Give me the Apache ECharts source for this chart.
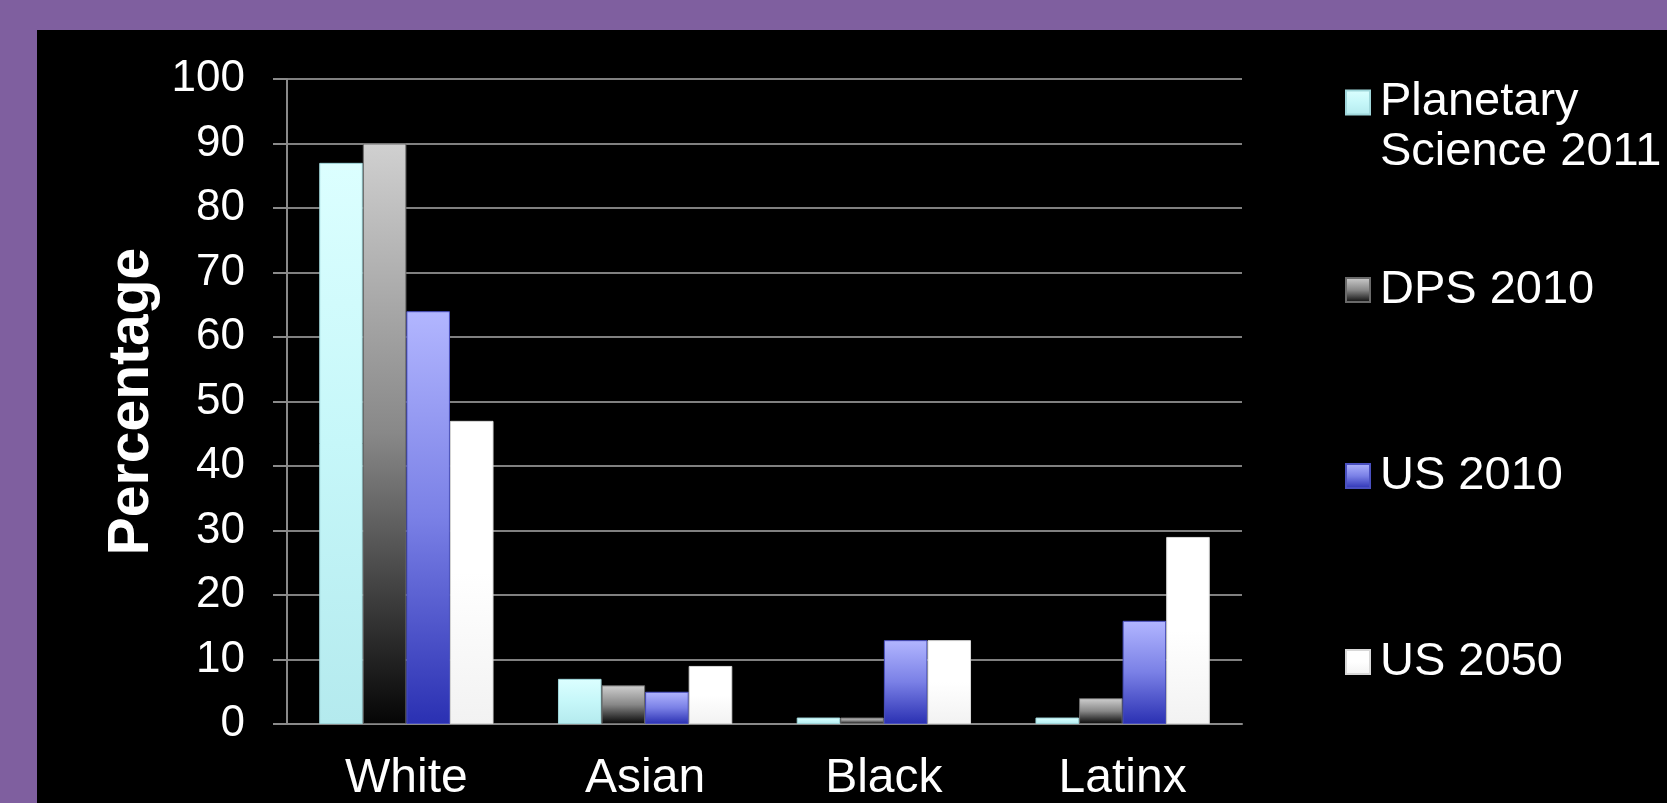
<!DOCTYPE html>
<html>
<head>
<meta charset="utf-8">
<script src="https://cdn.jsdelivr.net/npm/echarts@6/dist/echarts.min.js"></script>
<style>
  html, body { margin: 0; padding: 0; width: 1667px; height: 803px; background: #7f5f9f; overflow: hidden; }
  #panel { position: absolute; left: 37px; top: 30px; width: 1630px; height: 773px; background: #000; }
  #chart { position: absolute; left: 0; top: 0; width: 1667px; height: 803px; }
</style>
</head>
<body>
<div id="panel"></div>
<div id="chart"></div>
<script>
const categories = ['White', 'Asian', 'Black', 'Latinx'];
const seriesNames = ['Planetary Science 2011', 'DPS 2010', 'US 2010', 'US 2050'];
const legendLabels = ['\nPlanetary\nScience 2011', 'DPS 2010', 'US 2010', 'US 2050'];
const planetary2011 = [87, 7, 1, 1];
const dps2010 = [90, 6, 1, 4];
const us2010 = [64, 5, 13, 16];
const us2050 = [47, 9, 13, 29];
const yTicks = [0, 10, 20, 30, 40, 50, 60, 70, 80, 90, 100];

const grad = (stops) => ({ type: 'linear', x: 0, y: 0, x2: 0, y2: 1,
  colorStops: stops.map((c, i) => ({ offset: i / (stops.length - 1), color: c })) });

const colors = [
  grad(['#dcffff', '#c6f7f9', '#b4eaee']),
  grad(['#d0d0d0', '#888888', '#050505']),
  grad(['#b2b6ff', '#7a80e6', '#2a30b2']),
  grad(['#ffffff', '#ffffff', '#f2f2f2'])
];
const borders = ['#9fd6da', '#6a6a6a', '#4a50c0', '#d8d8d8'];
const values = [planetary2011, dps2010, us2010, us2050];

const legendCenters = [102.5, 290, 476, 662];
const FONT = '"Liberation Sans", Arial, sans-serif';

const chart = echarts.init(document.getElementById('chart'));
chart.setOption({
  animation: false,
  backgroundColor: 'transparent',
  grid: { left: 287, right: 425, top: 79, bottom: 74, containLabel: false },
  legend: seriesNames.map((n, i) => ({
    data: [n],
    orient: 'vertical',
    left: 1345,
    top: legendCenters[i] - (i === 0 ? 75 : 25),
    padding: 0,
    itemWidth: 24,
    itemHeight: 24,
    icon: 'rect',
    selectedMode: false,
    formatter: () => legendLabels[i],
    textStyle: { color: '#ffffff', fontSize: 47, fontFamily: FONT, lineHeight: 50, padding: [0, 0, 0, 5] }
  })),
  xAxis: {
    type: 'category',
    data: categories,
    axisLine: { lineStyle: { color: '#8a8a8a', width: 2 } },
    axisTick: { length: 14, lineStyle: { color: '#8a8a8a', width: 2 } },
    axisLabel: { color: '#ffffff', fontSize: 48, fontFamily: FONT, margin: 31 }
  },
  yAxis: {
    type: 'value',
    min: 0, max: 100, interval: 10,
    name: 'Percentage',
    nameLocation: 'middle',
    nameGap: 126,
    nameTextStyle: { color: '#ffffff', fontSize: 57, fontWeight: 'bold', fontFamily: FONT },
    axisLine: { show: true, lineStyle: { color: '#8a8a8a', width: 2 } },
    axisTick: { show: true, length: 14, lineStyle: { color: '#8a8a8a', width: 2 } },
    splitLine: { lineStyle: { color: '#808080', width: 2 } },
    axisLabel: { color: '#ffffff', fontSize: 44, fontFamily: FONT, margin: 42,
      formatter: (v) => yTicks.includes(v) ? String(v) : '' }
  },
  series: seriesNames.map((n, i) => ({
    name: n,
    type: 'bar',
    data: values[i],
    barGap: '0%',
    barCategoryGap: '27%',
    itemStyle: { color: colors[i], borderColor: borders[i], borderWidth: 1 }
  }))
});
</script>
</body>
</html>
